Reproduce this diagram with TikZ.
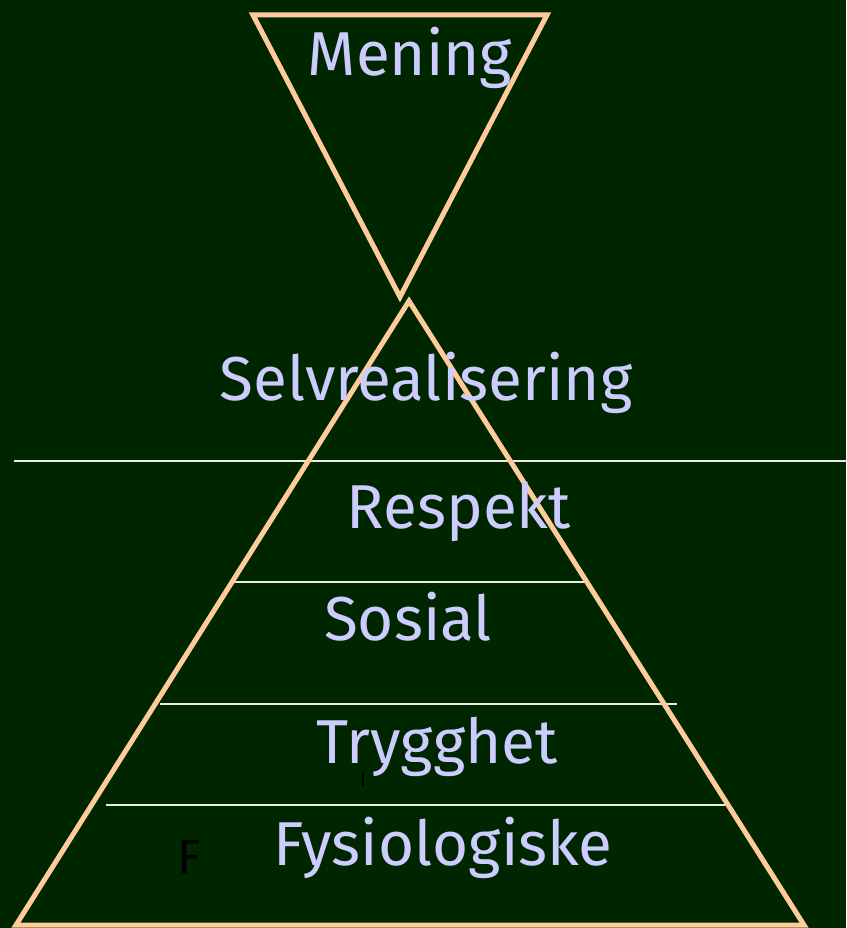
\documentclass[tikz,border=0pt]{standalone}
\usepackage{fontspec}
\setmainfont{Fira Sans}
\definecolor{bg}{HTML}{002600}
\definecolor{peach}{HTML}{FFCC99}
\definecolor{lav}{HTML}{CCCCFF}
\begin{document}
\begin{tikzpicture}[x=1pt,y=-1pt,
  tri/.style={draw=peach,line width=5pt,line join=miter},
  sep/.style={draw=white!92!black,line width=1.6pt},
  lbl/.style={text=lav,anchor=base,inner sep=0pt,font=\fontsize{62}{62}\selectfont}]
\fill[bg] (0,0) rectangle (846,928);
\useasboundingbox (0,0) rectangle (846,928);
% separator lines
\coordinate (l1a) at (14,461); \coordinate (l1b) at (846,461);
\coordinate (l2a) at (233,582); \coordinate (l2b) at (585,582);
\coordinate (l3a) at (160,704); \coordinate (l3b) at (677,704);
\coordinate (l4a) at (106,805); \coordinate (l4b) at (725,805);
\draw[sep] (l1a) -- (l1b);
\draw[sep] (l2a) -- (l2b);
\draw[sep] (l3a) -- (l3b);
\draw[sep] (l4a) -- (l4b);
% triangles
\coordinate (ma) at (253,15); \coordinate (mb) at (547,15); \coordinate (mc) at (400,297);
\draw[tri] (ma) -- (mb) -- (mc) -- cycle;
\coordinate (pa) at (409,301); \coordinate (pb) at (804,925); \coordinate (pc) at (16,925);
\draw[tri] (pa) -- (pb) -- (pc) -- cycle;
% labels
\node[lbl] (mening) at (410,76) {Mening};
\node[lbl] (selv) at (426,400) {Selvrealisering};
\node[lbl] (resp) at (459,528) {Respekt};
\node[lbl] (sos) at (408,640) {Sosial};
\node[lbl] (tryg) at (437,763) {Trygghet};
\node[lbl] (fys) at (443,865) {Fysiologiske};
\node[anchor=base,inner sep=0pt,text=black,font=\fontsize{48}{48}\selectfont] (f) at (189,873) {F};
\coordinate (ta) at (363,772); \coordinate (tb) at (363,786);
\draw[black,line width=1.5pt] (ta) -- (tb);
\end{tikzpicture}
\end{document}
